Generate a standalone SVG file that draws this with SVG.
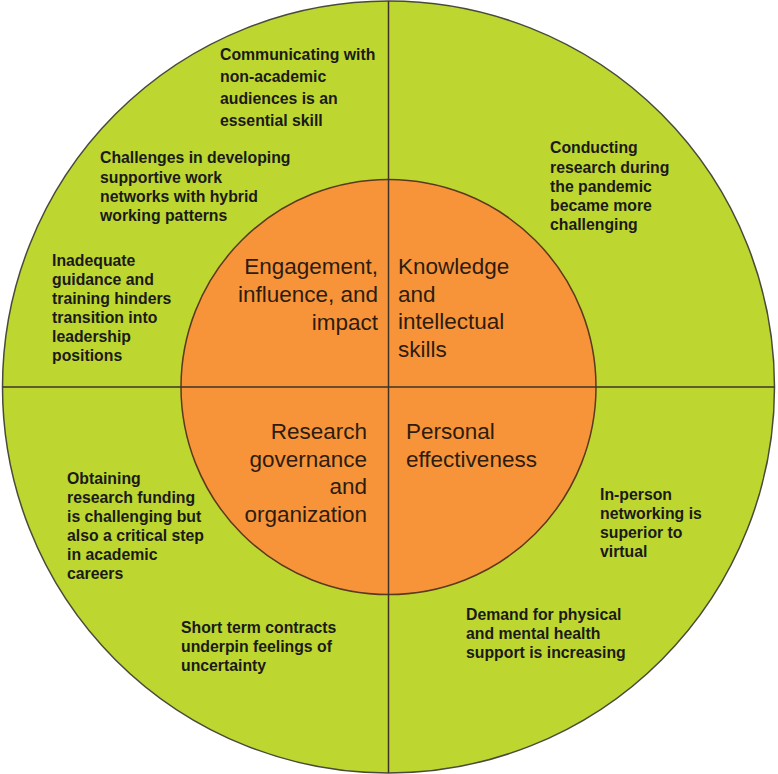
<svg xmlns="http://www.w3.org/2000/svg" width="778" height="774" viewBox="0 0 778 774">
<style>
.sm{font-family:"Liberation Sans",Arial,sans-serif;font-weight:bold;font-size:15.8px;fill:#1a1a18}
.lg{font-family:"Liberation Sans",Arial,sans-serif;font-size:22.5px;fill:#2e1c10}
.r{text-anchor:end}
</style>
<rect width="778" height="774" fill="#ffffff"/>
<g id="outer-circle"><circle cx="388.5" cy="387" r="386" fill="#bed630" stroke="#4a4a3a" stroke-width="1.5"/></g>
<g id="inner-circle"><circle cx="388.5" cy="387" r="207.5" fill="#f7943a" stroke="#5a3a1e" stroke-width="1.5"/></g>
<g id="dividers" stroke="#3e3326" stroke-width="1.5">
<line x1="388.5" y1="1" x2="388.5" y2="773"/>
<line x1="2.5" y1="387" x2="774.5" y2="387"/>
</g>
<g id="engagement"><text class="lg r"><tspan x="378" y="274">Engagement,</tspan><tspan x="378" y="302">influence, and</tspan><tspan x="378" y="330">impact</tspan></text></g>
<g id="knowledge"><text class="lg"><tspan x="398" y="274">Knowledge</tspan><tspan x="398" y="302">and</tspan><tspan x="398" y="329">intellectual</tspan><tspan x="398" y="357">skills</tspan></text></g>
<g id="research-governance"><text class="lg r"><tspan x="367" y="439">Research</tspan><tspan x="367" y="467">governance</tspan><tspan x="367" y="494">and</tspan><tspan x="367" y="522">organization</tspan></text></g>
<g id="personal-effectiveness"><text class="lg"><tspan x="406" y="439">Personal</tspan><tspan x="406" y="467">effectiveness</tspan></text></g>
<g id="communicating"><text class="sm"><tspan x="220" y="60">Communicating with</tspan><tspan x="220" y="82">non-academic</tspan><tspan x="220" y="104">audiences is an</tspan><tspan x="220" y="126">essential skill</tspan></text></g>
<g id="challenges"><text class="sm"><tspan x="100" y="163">Challenges in developing</tspan><tspan x="100" y="183">supportive work</tspan><tspan x="100" y="202">networks with hybrid</tspan><tspan x="100" y="221">working patterns</tspan></text></g>
<g id="inadequate"><text class="sm"><tspan x="52" y="266">Inadequate</tspan><tspan x="52" y="285">guidance and</tspan><tspan x="52" y="304">training hinders</tspan><tspan x="52" y="323">transition into</tspan><tspan x="52" y="342">leadership</tspan><tspan x="52" y="361">positions</tspan></text></g>
<g id="conducting"><text class="sm"><tspan x="550" y="153">Conducting</tspan><tspan x="550" y="173">research during</tspan><tspan x="550" y="192">the pandemic</tspan><tspan x="550" y="211">became more</tspan><tspan x="550" y="230">challenging</tspan></text></g>
<g id="obtaining"><text class="sm"><tspan x="67" y="484">Obtaining</tspan><tspan x="67" y="503">research funding</tspan><tspan x="67" y="522">is challenging but</tspan><tspan x="67" y="541">also a critical step</tspan><tspan x="67" y="560">in academic</tspan><tspan x="67" y="579">careers</tspan></text></g>
<g id="short-term"><text class="sm"><tspan x="181" y="633">Short term contracts</tspan><tspan x="181" y="652">underpin feelings of</tspan><tspan x="181" y="671">uncertainty</tspan></text></g>
<g id="in-person"><text class="sm"><tspan x="600" y="500">In-person</tspan><tspan x="600" y="519">networking is</tspan><tspan x="600" y="538">superior to</tspan><tspan x="600" y="557">virtual</tspan></text></g>
<g id="demand"><text class="sm"><tspan x="466" y="620">Demand for physical</tspan><tspan x="466" y="639">and mental health</tspan><tspan x="466" y="658">support is increasing</tspan></text></g>
</svg>
